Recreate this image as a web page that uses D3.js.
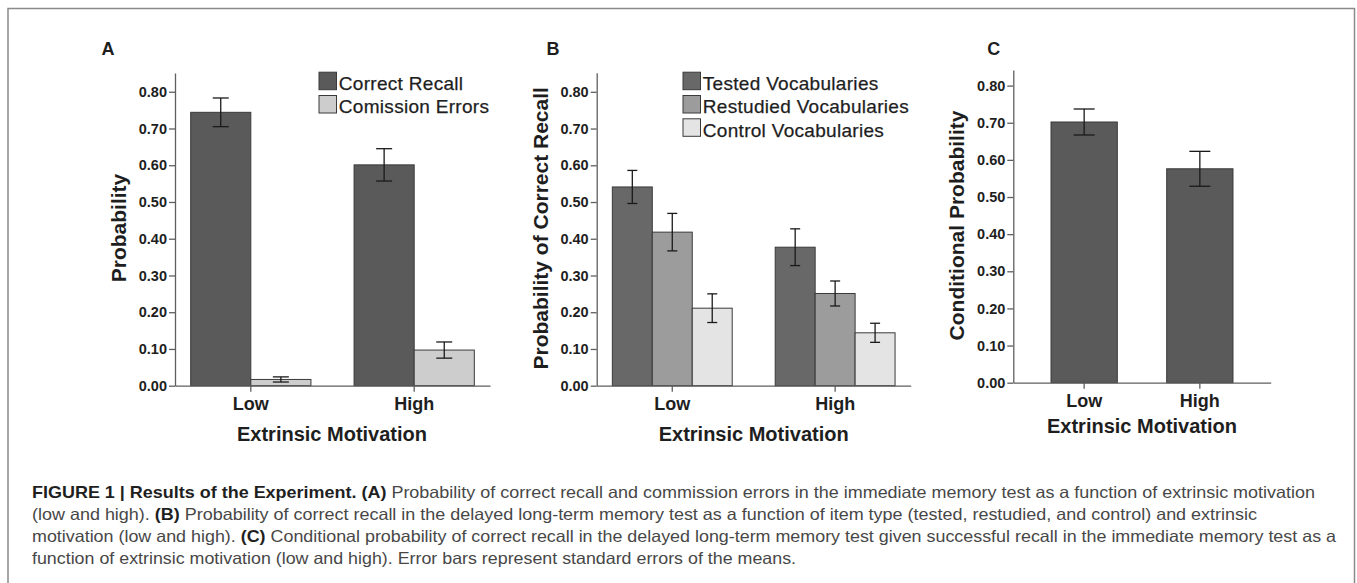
<!DOCTYPE html>
<html>
<head>
<meta charset="utf-8">
<script src="https://cdn.jsdelivr.net/npm/d3@7"></script>
<style>
  html, body { margin: 0; padding: 0; background: #fff; }
  svg { display: block; }
</style>
</head>
<body>
<svg id="fig" width="1357" height="583"></svg>
<script>
// ---------- data ----------
const groups = ["Low", "High"];
const yTicks = [0, 0.1, 0.2, 0.3, 0.4, 0.5, 0.6, 0.7, 0.8];

// panel A: immediate test
const aSeries = ["Correct Recall", "Comission Errors"];
const aCorrect = [0.744, 0.601];
const aCorrectSE = [0.039, 0.044];
const aCommission = [0.017, 0.097];
const aCommissionSE = [0.007, 0.022];

// panel B: delayed test by item type
const bSeries = ["Tested Vocabularies", "Restudied Vocabularies", "Control Vocabularies"];
const bTested = [0.541, 0.377];
const bTestedSE = [0.045, 0.050];
const bRestudied = [0.418, 0.251];
const bRestudiedSE = [0.051, 0.034];
const bControl = [0.211, 0.144];
const bControlSE = [0.039, 0.026];

// panel C: conditional probability
const cConditional = [0.702, 0.576];
const cConditionalSE = [0.035, 0.047];

const captionLines = [
  [["FIGURE 1 | Results of the Experiment. (A)", true], [" Probability of correct recall and commission errors in the immediate memory test as a function of extrinsic motivation", false]],
  [["(low and high). ", false], ["(B)", true], [" Probability of correct recall in the delayed long-term memory test as a function of item type (tested, restudied, and control) and extrinsic", false]],
  [["motivation (low and high). ", false], ["(C)", true], [" Conditional probability of correct recall in the delayed long-term memory test given successful recall in the immediate memory test as a", false]],
  [["function of extrinsic motivation (low and high). Error bars represent standard errors of the means.", false]],
];

// ---------- styles ----------
const FONT = "'Liberation Sans', Arial, Helvetica, sans-serif";
const INK = "#1e1e1e";
const AXIS = "#5f5f5f";

const svg = d3.select("#fig");

// outer frame
svg.append("rect")
  .attr("x", 8).attr("y", 8.5)
  .attr("width", 1346.5).attr("height", 620)
  .attr("fill", "none")
  .attr("stroke", "#8a8a8a")
  .attr("stroke-width", 1.5);

function drawPanel(p) {
  const g = svg.append("g").attr("font-family", FONT);

  const y = d3.scaleLinear().domain([0, p.yMax]).range([p.y0, p.yTop]);

  const x = d3.scaleBand()
    .domain(groups)
    .range([p.x0, p.x1])
    .paddingInner(p.padInner)
    .paddingOuter(p.padOuter);

  const xs = d3.scaleBand()
    .domain(p.series.map((s) => s.name))
    .range([0, x.bandwidth()])
    .padding(0);

  // bars
  const bars = p.series.flatMap((s) =>
    s.values.map((v, i) => ({ name: s.name, group: groups[i], value: v, se: s.se[i], fill: s.fill }))
  );

  g.append("g")
    .selectAll("rect")
    .data(bars)
    .join("rect")
    .attr("x", (d) => x(d.group) + xs(d.name))
    .attr("y", (d) => y(d.value))
    .attr("width", xs.bandwidth())
    .attr("height", (d) => y(0) - y(d.value))
    .attr("fill", (d) => d.fill)
    .attr("stroke", "#3a3a3a")
    .attr("stroke-width", 1);

  // error bars
  const eb = g.append("g")
    .selectAll("g")
    .data(bars)
    .join("g")
    .attr("stroke", "#1a1a1a")
    .attr("stroke-width", 1.3);

  const cx = (d) => x(d.group) + xs(d.name) + xs.bandwidth() / 2;
  eb.append("line")
    .attr("x1", cx).attr("x2", cx)
    .attr("y1", (d) => y(d.value + d.se))
    .attr("y2", (d) => y(d.value - d.se));
  eb.append("line")
    .attr("x1", (d) => cx(d) - p.capW / 2).attr("x2", (d) => cx(d) + p.capW / 2)
    .attr("y1", (d) => y(d.value + d.se)).attr("y2", (d) => y(d.value + d.se));
  eb.append("line")
    .attr("x1", (d) => cx(d) - p.capW / 2).attr("x2", (d) => cx(d) + p.capW / 2)
    .attr("y1", (d) => y(d.value - d.se)).attr("y2", (d) => y(d.value - d.se));

  // y axis
  g.append("g")
    .attr("transform", `translate(${p.x0},0)`)
    .call(d3.axisLeft(y).tickValues(yTicks).tickFormat(d3.format(".2f")).tickSize(6).tickSizeOuter(0).tickPadding(2))
    .call((sel) => sel.selectAll("path,line").attr("stroke", AXIS).attr("stroke-width", 1.3))
    .call((sel) => sel.selectAll("text")
      .attr("fill", INK)
      .attr("font-family", FONT)
      .attr("font-weight", "bold")
      .attr("font-size", 14.5));

  // x axis
  g.append("g")
    .attr("transform", `translate(0,${p.y0})`)
    .call(d3.axisBottom(x).tickSize(6).tickSizeOuter(0).tickPadding(p.xPad))
    .call((sel) => sel.selectAll("path,line").attr("stroke", AXIS).attr("stroke-width", 1.3))
    .call((sel) => sel.selectAll("text")
      .attr("fill", INK)
      .attr("font-family", FONT)
      .attr("font-weight", "bold")
      .attr("font-size", 18));

  // axis titles
  g.append("text")
    .attr("transform", `translate(${p.yTitleX},${p.yTitleY}) rotate(-90)`)
    .attr("text-anchor", "middle")
    .attr("font-weight", "bold")
    .attr("font-size", 21)
    .attr("fill", INK)
    .text(p.yTitle);

  g.append("text")
    .attr("x", p.xTitleX)
    .attr("y", p.xTitleY)
    .attr("text-anchor", "middle")
    .attr("font-weight", "bold")
    .attr("font-size", 20)
    .attr("fill", INK)
    .text("Extrinsic Motivation");

  // panel letter
  g.append("text")
    .attr("x", p.labelX)
    .attr("y", 54.5)
    .attr("font-weight", "bold")
    .attr("font-size", 18)
    .attr("fill", INK)
    .text(p.label);

  // legend
  if (p.legend) {
    const lg = g.append("g").attr("transform", `translate(${p.legend.x},${p.legend.y})`);
    p.series.forEach((s, i) => {
      lg.append("rect")
        .attr("x", 0)
        .attr("y", i * 23.3 - 17.8)
        .attr("width", 17.5)
        .attr("height", 17.5)
        .attr("fill", s.fill)
        .attr("stroke", "#3a3a3a")
        .attr("stroke-width", 1);
      lg.append("text")
        .attr("x", 19.8)
        .attr("y", i * 23.3)
        .attr("font-size", 19)
        .attr("letter-spacing", 0.3)
        .attr("stroke", INK)
        .attr("stroke-width", 0.25)
        .attr("fill", INK)
        .text(s.name);
    });
  }
}

// ---------- panel A ----------
drawPanel({
  label: "A", labelX: 101.5,
  x0: 175, x1: 490, y0: 385.7, yTop: 73, yMax: 0.851,
  padInner: 0.264, padOuter: 0.096, capW: 16, xPad: 5.5,
  series: [
    { name: aSeries[0], values: aCorrect, se: aCorrectSE, fill: "#5a5a5a" },
    { name: aSeries[1], values: aCommission, se: aCommissionSE, fill: "#cdcdcd" },
  ],
  yTitle: "Probability", yTitleX: 126, yTitleY: 228,
  xTitleX: 332, xTitleY: 440.7,
  legend: { x: 319, y: 90 },
});

// ---------- panel B ----------
drawPanel({
  label: "B", labelX: 546.5,
  x0: 596.7, x1: 910.7, y0: 385.7, yTop: 72.7, yMax: 0.852,
  padInner: 0.264, padOuter: 0.096, capW: 10, xPad: 5.5,
  series: [
    { name: bSeries[0], values: bTested, se: bTestedSE, fill: "#686868" },
    { name: bSeries[1], values: bRestudied, se: bRestudiedSE, fill: "#9c9c9c" },
    { name: bSeries[2], values: bControl, se: bControlSE, fill: "#e4e4e4" },
  ],
  yTitle: "Probability of Correct Recall", yTitleX: 547.5, yTitleY: 228.3,
  xTitleX: 753.7, xTitleY: 440.7,
  legend: { x: 683, y: 90 },
});

// ---------- panel C ----------
drawPanel({
  label: "C", labelX: 987.3,
  x0: 1013.3, x1: 1270.7, y0: 382.7, yTop: 70, yMax: 0.842,
  padInner: 0.427, padOuter: 0.326, capW: 21, xPad: 6,
  series: [
    { name: "Conditional Probability", values: cConditional, se: cConditionalSE, fill: "#5a5a5a" },
  ],
  yTitle: "Conditional Probability", yTitleX: 964, yTitleY: 225.5,
  xTitleX: 1142, xTitleY: 432.7,
  legend: null,
});

// ---------- caption ----------
const capBase = [497.7, 520, 542.3, 564.3];
const capLen = [1283, 1225, 1304, 764];
const cap = svg.append("g").attr("font-family", FONT).attr("font-size", 16.5);
captionLines.forEach((parts, i) => {
  const t = cap.append("text")
    .attr("x", 32)
    .attr("y", capBase[i])
    .attr("textLength", capLen[i])
    .attr("lengthAdjust", "spacingAndGlyphs");
  parts.forEach(([txt, bold]) => {
    t.append("tspan")
      .attr("font-weight", bold ? "bold" : "normal")
      .attr("fill", bold ? "#1f1f1f" : "#474747")
      .text(txt);
  });
});
</script>
</body>
</html>
